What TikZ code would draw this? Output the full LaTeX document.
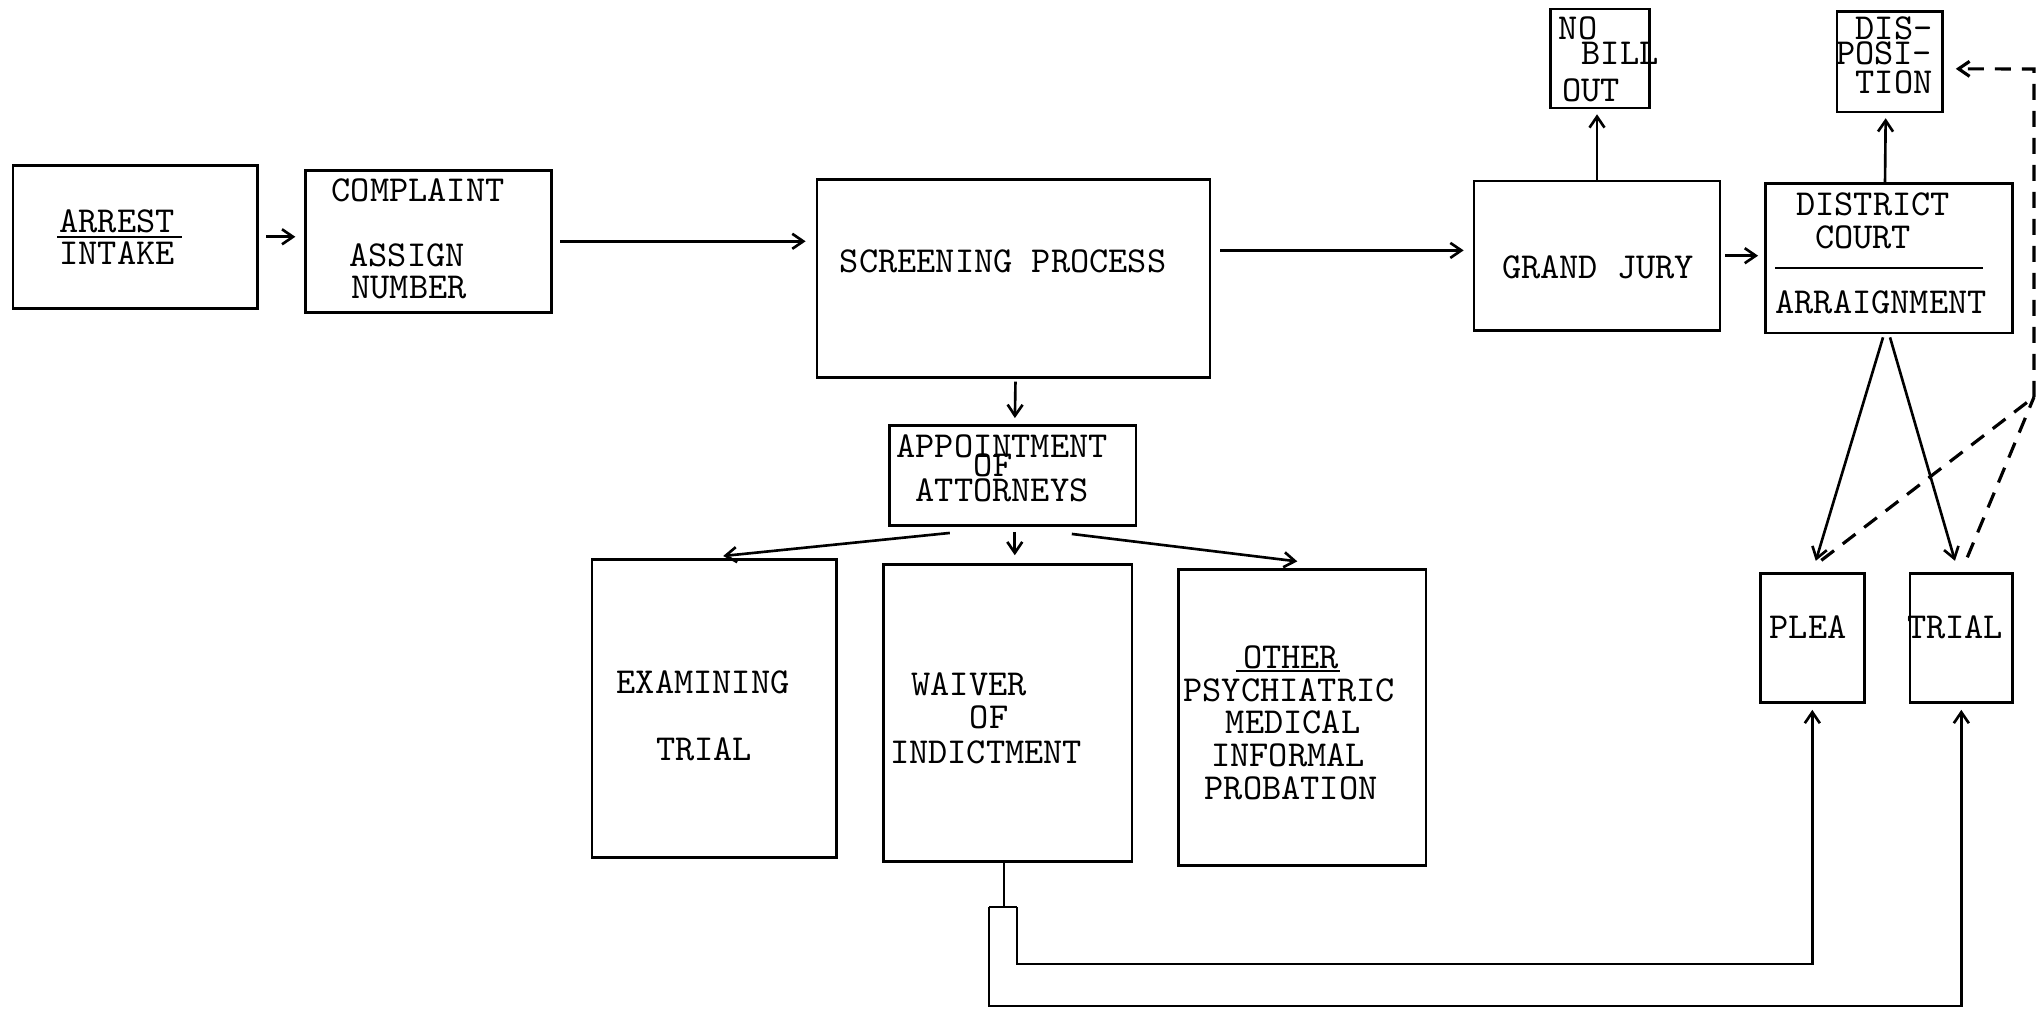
\documentclass[tikz,border=0pt]{standalone}
\usetikzlibrary{arrows.meta,calc}
\newcommand{\tfont}{\fontsize{10.4pt}{12pt}\selectfont\ttfamily}
\begin{document}
\begin{tikzpicture}[x=0.01cm,y=-0.01cm,
  box/.style={draw, line width=0.75pt, inner sep=0pt},
  txt/.style={inner sep=0pt, font=\tfont},
  ln/.style={line width=0.75pt},
  arr/.style={line width=0.75pt, -{Straight Barb[length=1.1mm,width=1.5mm]}},
  dsh/.style={line width=0.9pt, dash pattern=on 1.6mm off 1.1mm}]
\useasboundingbox[fill=white] (0,0) rectangle (2040,1016);

% boxes
\node[box, minimum width=2.446cm, minimum height=1.431cm] (arrest) at (135.3,236.8) {};
\node[box, minimum width=2.459cm, minimum height=1.418cm] (complaint) at (428.7,241.3) {};
\node[box, minimum width=3.929cm, minimum height=1.978cm] (screening) at (1013.5,278.4) {};
\node[box, minimum width=2.459cm, minimum height=1.496cm] (grand) at (1597,255.7) {};
\node[box, minimum width=0.989cm, minimum height=0.989cm] (nobill) at (1600.2,58.5) {};
\node[box, minimum width=2.471cm, minimum height=1.496cm] (district) at (1889,258.2) {};
\node[box, minimum width=1.054cm, minimum height=1.002cm] (disposition) at (1889.7,61.8) {};
\node[box, minimum width=2.459cm, minimum height=1.002cm] (appointment) at (1012.8,475.5) {};
\node[box, minimum width=2.446cm, minimum height=2.980cm] (examining) at (714.2,708.4) {};
\node[box, minimum width=2.485cm, minimum height=2.967cm] (waiver) at (1007.6,713) {};
\node[box, minimum width=2.472cm, minimum height=2.954cm] (other) at (1302.3,717.5) {};
\node[box, minimum width=1.040cm, minimum height=1.288cm] (plea) at (1812.3,638.1) {};
\node[box, minimum width=1.027cm, minimum height=1.288cm] (trial) at (1961.3,638.1) {};

% texts
\node[txt] (tarrest) at (117,221) {ARREST};
\draw[ln] (57,237) -- (182,237);
\node[txt] (tintake) at (117,253) {INTAKE};
\node[txt] (tcomplaint) at (418,190) {COMPLAINT};
\node[txt] (tassign) at (407,255) {ASSIGN};
\node[txt] (tnumber) at (409,288) {NUMBER};
\node[txt] (tscreen) at (1003,261) {SCREENING PROCESS};
\node[txt] (tgrand) at (1598,267) {GRAND JURY};
\node[txt] (tno) at (1578,28) {NO};
\node[txt] (tbill) at (1620,53) {BILL};
\node[txt] (tout) at (1591,90) {OUT};
\node[txt] (tdistrict) at (1873,204) {DISTRICT};
\node[txt] (tcourt) at (1863,237) {COURT};
\draw[ln] (1775,268) -- (1983,268);
\node[txt] (tarraign) at (1881,302) {ARRAIGNMENT};
\node[txt] (tdis) at (1894,28) {DIS-};
\node[txt] (tposi) at (1884,53) {POSI-};
\node[txt] (ttion) at (1894,82) {TION};
\node[txt] (tappoint) at (1002,446) {APPOINTMENT};
\node[txt] (tof) at (993,465) {OF};
\node[txt] (tattorneys) at (1002,490) {ATTORNEYS};
\node[txt] (texamining) at (703,682) {EXAMINING};
\node[txt] (ttrial) at (704,749) {TRIAL};
\node[txt] (twaiver) at (969,684) {WAIVER};
\node[txt] (tof2) at (989,717) {OF};
\node[txt] (tindict) at (986,752) {INDICTMENT};
\node[txt] (tother) at (1291,657) {OTHER};
\draw[ln] (1236,671) -- (1340,671);
\node[txt] (tpsych) at (1289,690) {PSYCHIATRIC};
\node[txt] (tmedical) at (1293,722) {MEDICAL};
\node[txt] (tinformal) at (1288,755) {INFORMAL};
\node[txt] (tprob) at (1291,788) {PROBATION};
\node[txt] (tplea) at (1808,627) {PLEA};
\node[txt] (ttrial2) at (1955,627) {TRIAL};

% helper coordinates
\coordinate (sgA) at ($(screening.east)+(0,-28)$);
\coordinate (awA) at ($(appointment.south)+(2,5)$);

% main flow
\draw[arr, shorten <=2pt, shorten >=0.09cm] (arrest.east) -- (arrest.east -| complaint.west);
\draw[arr, shorten <=0.07cm, shorten >=0.1cm] (complaint.east) -- (complaint.east -| screening.west);
\draw[arr, shorten <=0.09cm, shorten >=0.09cm] (sgA) -- (sgA -| grand.west);
\draw[arr, shorten <=0.04cm, shorten >=0.06cm] (grand.east) -- (grand.east -| district.west);
\draw[arr, shorten <=0.03cm, shorten >=0.06cm] ($(screening.south)+(2,0)$) -- ($(appointment.north)+(2,0)$);
\draw[arr] ($(appointment.south)+(-63,6)$) -- ($(examining.north)+(9,-2)$);
\draw[arr, shorten >=0.08cm] (awA) -- (awA |- waiver.north);
\draw[arr] ($(appointment.south)+(59,7)$) -- ($(other.north)+(-5,-7)$);
\draw[arr, shorten >=0.05cm] (grand.north) -- (grand.north |- nobill.south);
\draw[arr, shorten >=0.05cm] ($(district.north)+(-4,0)$) -- ($(disposition.south)+(-4,0)$);
\draw[arr, shorten >=0.12cm] ($(district.south)+(-6,3)$) -- (plea.north);
\draw[arr, shorten >=0.12cm] ($(district.south)+(1,3)$) -- ($(trial.north)+(-3,0)$);

% dashed return to disposition
\coordinate (junc) at (2034,397);
\coordinate (dcorner) at (2034,69);
\draw[dsh] ($(plea.north)+(9,-12)$) -- (junc);
\draw[dsh] ($(trial.north)+(6,-15)$) -- (junc);
\draw[dsh, -{Straight Barb[length=1.1mm,width=1.5mm]}, shorten >=0.12cm] (junc) -- (dcorner) -- ($(disposition.east)+(0,7)$);

% bottom loop from waiver
\coordinate (stem) at (1004,907);
\coordinate (loopL) at (989,907);
\coordinate (loopR) at (1017,907);
\coordinate (lowR) at (1017,964);
\coordinate (lowL) at (989,1006);
\draw[ln] (waiver.south -| stem) -- (stem);
\draw[ln] (loopL) -- (loopR);
\draw[arr, shorten >=0.06cm] (loopR) -- (lowR) -| (plea.south);
\draw[arr, shorten >=0.06cm] (loopL) -- (lowL) -| (trial.south);
\end{tikzpicture}
\end{document}
